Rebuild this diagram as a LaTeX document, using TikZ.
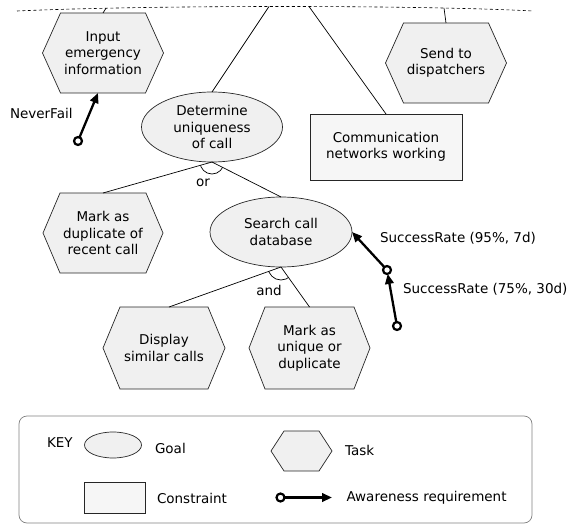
\documentclass[tikz,border=0pt]{standalone}
\usepackage{fontspec}
\setmainfont{DejaVu Sans}
\usetikzlibrary{arrows.meta,shapes.geometric,backgrounds}
\newcommand\hexshape[2]{%
  \begin{pgfonlayer}{background}
  \draw[hexline] ([xshift=#2]#1.north west) -- ([xshift=-#2]#1.north east) -- (#1.east)
    -- ([xshift=-#2]#1.south east) -- ([xshift=#2]#1.south west) -- (#1.west) -- cycle;
  \end{pgfonlayer}}
\begin{document}
\begin{tikzpicture}[x=1pt,y=-1pt,
  every node/.style={font=\fontsize{13.5pt}{16.5pt}\selectfont, inner sep=0pt, outer sep=0pt},
  conn/.style={line width=0.7pt, black},
  hexbox/.style={rectangle, minimum width=121pt, minimum height=80pt, align=center},
  hexline/.style={draw=black!85, line width=0.7pt, fill=gray!12},
  goal/.style={ellipse, draw=black!85, line width=0.7pt, fill=gray!12, minimum width=141pt, minimum height=70pt, align=center},
  cons/.style={rectangle, draw=black!85, line width=0.7pt, fill=gray!7, minimum width=152pt, minimum height=66pt, align=center},
  aw/.style={line width=2.3pt, -{Triangle[length=10pt,width=8.5pt]}},
  awc/.style={circle, draw, fill=white, line width=2.2pt, minimum size=8pt},
  lbl/.style={anchor=base west},
  dashline/.style={line width=0.6pt, dash pattern=on 3pt off 2.5pt}
]
\useasboundingbox (0,0) rectangle (575,524);

% top boundary
\draw[dashline] (17,11) .. controls (150,5) and (420,5) .. (533,11);
\coordinate (t1) at (106,8.2);
\coordinate (t2) at (269,6.5);
\coordinate (t3) at (309,6.5);
\coordinate (t4) at (444,8);

% nodes
\node[hexbox] (in) at (103,53) {Input\\emergency\\information};
\hexshape{in}{18pt}
\node[hexbox] (send) at (446,63) {Send to\\dispatchers};
\hexshape{send}{18pt}
\node[goal] (det) at (212,127) {Determine\\uniqueness\\of call};
\node[cons] (comm) at (386,147) {Communication\\networks working};
\node[hexbox, minimum width=120pt] (dup) at (103,233) {Mark as\\duplicate of\\recent call};
\hexshape{dup}{17pt}
\node[goal, minimum width=142pt] (srch) at (281,232) {Search call\\database};
\node[hexbox, minimum width=122pt, minimum height=82pt] (disp) at (164,348) {Display\\similar calls};
\hexshape{disp}{17pt}
\node[hexbox, minimum height=82pt] (uniq) at (309.5,348) {Mark as\\unique or\\duplicate};
\hexshape{uniq}{16pt}

% connectors
\draw[conn] (in.north) -- (t1);
\draw[conn] (det.north) -- (t2);
\draw[conn] (comm.north) -- (t3);
\draw[conn] (send.north) -- (t4);
\draw[conn] (det.south) -- (dup.north);
\draw[conn] (det.south) -- (srch.north);
\draw[conn] (srch.south) -- ([xshift=5pt]disp.north);
\draw[conn] (srch.south) -- (uniq.north);

% or / and arcs
\begin{scope}
  \clip (det.south) -- (dup.north) -- (212,260) -- (srch.north) -- cycle;
  \draw[conn] (det.south) circle[radius=12pt];
\end{scope}
\begin{scope}
  \clip (srch.south) -- ([xshift=5pt]disp.north) -- (281,370) -- (uniq.north) -- cycle;
  \draw[conn] (srch.south) circle[radius=13pt];
\end{scope}
\node[anchor=base] (or) at (203,186) {or};
\node[anchor=base] (and) at (269,295.5) {and};

% awareness requirements
\node[awc] (c1) at (78,141) {};
\draw[aw] (c1) -- ([xshift=-5pt]in.south);
\node[lbl] (nf) at (10,119) {NeverFail};
\node[awc] (c2) at (387,270) {};
\draw[aw] (c2) -- (srch.east);
\node[lbl] (sr1) at (380,242) {SuccessRate (95\%, 7d)};
\node[awc] (c3) at (397,326) {};
\draw[aw] (c3) -- (c2);
\node[lbl] (sr2) at (403,293) {SuccessRate (75\%, 30d)};

% legend
\node[draw=black!50, line width=0.7pt, rounded corners=8pt, minimum width=513pt, minimum height=107pt] (key) at (275.5,469.5) {};
\node[lbl] (keyt) at (47,447) {KEY};
\node[ellipse, draw=black!85, line width=0.7pt, fill=gray!12, minimum width=57pt, minimum height=26pt] (kg) at (113,445) {};
\node[lbl] (kgt) at (155,453) {Goal};
\node[rectangle, draw=black!85, line width=0.7pt, fill=gray!7, minimum width=61pt, minimum height=31pt] (kr) at (114.5,497.5) {};
\node[lbl] (krt) at (157,503) {Constraint};
\node[hexbox, minimum width=61pt, minimum height=40pt] (kt) at (301.5,451) {};
\hexshape{kt}{13pt}
\node[lbl] (ktt) at (345,455) {Task};
\node[awc] (kc) at (280.5,497.5) {};
\coordinate (ke) at (332,497.5);
\draw[aw] (kc) -- (ke);
\node[lbl] (kat) at (346.5,501) {Awareness requirement};
\end{tikzpicture}
\end{document}
